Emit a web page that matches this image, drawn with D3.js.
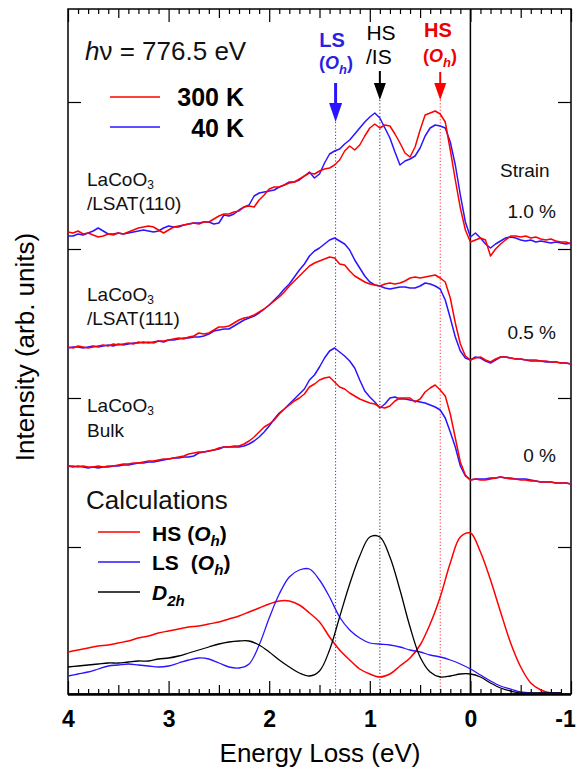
<!DOCTYPE html>
<html><head><meta charset="utf-8">
<script src="https://cdn.jsdelivr.net/npm/d3@7"></script>
<style>
html,body{margin:0;padding:0;background:#fff;}
svg{display:block;}
text{font-family:"Liberation Sans",Arial,Helvetica,sans-serif;}
</style>
</head><body>
<svg id="chart" width="582" height="773"></svg>
<script>
// ---------- DATA ----------
// Energy loss grid of the measured spectra (eV)
const energyExp = [4.00,3.95,3.90,3.85,3.80,3.75,3.70,3.65,3.60,3.55,3.50,3.45,3.40,3.35,3.30,3.25,3.20,3.15,3.10,3.05,3.00,2.95,2.90,2.85,2.80,2.75,2.70,2.65,2.60,2.55,2.50,2.45,2.40,2.35,2.30,2.25,2.20,2.15,2.10,2.05,2.00,1.95,1.90,1.85,1.80,1.75,1.70,1.65,1.60,1.55,1.50,1.45,1.40,1.35,1.30,1.25,1.20,1.15,1.10,1.05,1.00,0.95,0.90,0.85,0.80,0.75,0.70,0.65,0.60,0.55,0.50,0.45,0.40,0.35,0.30,0.25,0.20,0.15,0.10,0.05,0.00,-0.05,-0.10,-0.15,-0.20,-0.25,-0.30,-0.35,-0.40,-0.45,-0.50,-0.55,-0.60,-0.65,-0.70,-0.75,-0.80,-0.85,-0.90,-0.95,-1.00];

// LaCoO3/LSAT(110), offset spectra (arb. units)
const lsat110_300K = [462,461,463,460,461,459,457,458,460,459,461,460,462,464,466,467,468,467,464,461,464,467,468,469,470,471,470,472,472,475,478,480,480,482,483,487,488,487,494,499,505,507,507,509,511,512,515,518,521,520,523,525,526,529,534,543,548,544,549,558,566,570,566,569,568,560,551,541,537,547,564,579,581,583,580,572,544,514,486,464,452,454,456,454,438,445,450,454,458,458,457,458,456,457,455,454,455,453,452,452,450];
const lsat110_40K = [458,458,460,459,461,463,466,463,460,460,461,460,461,462,463,464,463,462,463,466,468,467,467,469,470,471,471,472,472,470,471,479,478,480,484,487,489,498,501,502,503,504,507,509,512,512,514,518,522,516,520,531,540,543,545,550,554,560,566,572,577,581,576,566,556,542,529,533,535,538,546,558,566,569,568,566,552,529,499,472,457,461,456,450,446,450,453,456,457,456,454,453,454,452,453,452,451,452,451,450,451];

// LaCoO3/LSAT(111)
const lsat111_300K = [347,346,348,347,346,347,348,349,348,350,349,350,351,350,352,351,352,351,353,353,354,355,356,355,357,358,361,360,361,364,367,367,368,371,374,376,377,379,382,385,389,393,397,402,408,413,418,423,428,431,433,435,437,436,430,429,423,418,415,412,410,409,408,410,411,410,411,413,416,417,416,417,418,419,416,412,396,371,350,338,334,336,337,334,332,335,337,337,336,335,335,334,334,334,333,333,332,332,331,331,330];
const lsat111_40K = [346,347,347,346,347,348,347,348,349,348,350,349,350,351,351,352,351,352,353,352,354,354,355,356,356,357,357,358,360,363,364,365,365,368,371,374,376,378,381,385,389,394,399,405,410,417,424,430,438,443,446,450,454,456,453,450,444,434,426,418,412,409,408,406,405,406,407,407,406,406,408,411,410,408,405,394,376,357,343,336,334,337,336,333,331,334,337,337,336,335,335,334,333,333,333,332,332,332,331,331,330];

// LaCoO3 bulk
const bulk_300K = [228,228,227,228,227,227,228,227,228,228,229,230,230,231,231,232,233,233,234,235,235,236,237,238,240,241,242,242,243,244,246,247,247,248,248,250,253,257,262,267,270,274,280,285,289,293,296,300,307,310,314,316,317,312,307,305,301,298,295,293,291,290,287,286,288,293,296,296,296,292,295,302,306,309,304,298,280,256,232,219,214,215,214,214,215,216,217,216,215,215,214,214,213,213,212,212,212,211,211,211,210];
const bulk_40K = [228,227,228,227,226,227,226,227,227,228,228,229,229,230,231,231,232,232,233,234,235,236,236,237,237,238,241,242,243,244,245,247,247,247,247,248,250,253,257,262,268,275,281,285,290,295,300,305,314,319,327,336,343,346,342,338,333,326,314,303,297,292,286,290,296,297,295,295,294,293,292,291,289,287,284,276,262,247,228,218,214,215,215,215,216,216,217,216,216,215,215,215,214,213,212,212,212,211,211,211,210];

// Calculated spectra
const energyCalc = [4.0,3.9,3.8,3.7,3.6,3.5,3.4,3.3,3.2,3.1,3.0,2.9,2.8,2.7,2.6,2.5,2.4,2.3,2.2,2.1,2.0,1.9,1.8,1.7,1.6,1.5,1.4,1.3,1.2,1.1,1.0,0.9,0.8,0.7,0.6,0.5,0.4,0.3,0.2,0.1,0.0,-0.1,-0.2,-0.3,-0.4,-0.5,-0.6,-0.7,-0.8,-0.9];
const calcHS = [42,44,46,48,49,51,53,56,58,61,63,65,67,68,70,72,75,78,82,86,90,93,93,89,81,72,57,44,34,25,20,17,20,28,36,49,70,97,131,157,161,142,114,82,51,27,11,4,1,1];
const calcLS = [18,20,22,25,28,29,30,29,28,27,28,31,34,36,35,31,27,26,30,49,76,100,117,124,125,114,97,77,64,56,51,50,49,47,44,42,39,37,34,30,25,19,13,8,5,2,1,1,1,1];
const calcD2h = [27,28,29,30,31,31,32,33,33,35,36,38,41,44,47,50,52,53,53,49,42,34,27,21,18,23,44,77,110,138,157,157,137,104,67,37,22,17,18,20,20,17,11,6,3,1,1,1,1,1];

// Marker energies (eV) for LS(Oh), HS/IS, HS(Oh)
const markerEnergy = [1.34, 0.90, 0.30];
const xMajorTicks = [4,3,2,1,0,-1];
const xHalfTicks = [3.5,2.5,1.5,0.5,-0.5];
const yTicks = [147,296,445,592];

// ---------- CHART ----------
const W = 582, H = 773;
const L = 68, R = 571, T = 9, B = 694;
const RED = "#ff0000", BLUE = "#2b14ff", BLK = "#000";
const x = d3.scaleLinear().domain([4,-1]).range([L,R]);
const y = d3.scaleLinear().domain([0,685]).range([B,T]);
const svg = d3.select("#chart");
svg.append("rect").attr("width",W).attr("height",H).attr("fill","#fff");

// guide dotted lines
const markerColors = ["#3a2cff","#333","#ff3030"];
const markerTops = [122,100,100];
markerEnergy.forEach((e,i)=>{
  svg.append("line").attr("x1",x(e)).attr("x2",x(e)).attr("y1",markerTops[i]).attr("y2",B)
    .attr("stroke",markerColors[i]).attr("stroke-width",1).attr("stroke-dasharray","1.2,2");
});
// zero line
svg.append("line").attr("x1",x(0)).attr("x2",x(0)).attr("y1",T).attr("y2",B)
  .attr("stroke",BLK).attr("stroke-width",1.5);

// axes
function noDomain(g){ g.select(".domain").remove(); }
const minorTicks = d3.range(-10,41).map(i=>i/10).filter(v=>Math.abs(v*2-Math.round(v*2))>1e-6);
const gBot = svg.append("g").attr("transform",`translate(0,${B})`);
gBot.append("g").call(d3.axisBottom(x).tickValues(minorTicks).tickSize(-5).tickFormat("")).call(noDomain);
gBot.append("g").call(d3.axisBottom(x).tickValues(xHalfTicks).tickSize(-9).tickFormat("")).call(noDomain);
const majB = gBot.append("g").call(d3.axisBottom(x).tickValues(xMajorTicks).tickSize(-13).tickPadding(17).tickFormat(d=>String(d))).call(noDomain);
majB.selectAll("text").attr("font-size",23).attr("font-weight","bold").attr("fill","#000")
  .attr("font-family","Liberation Sans, Arial, sans-serif")
  .attr("dx",d=>d===-1?-6:0);
const gTop = svg.append("g").attr("transform",`translate(0,${T})`);
gTop.append("g").call(d3.axisTop(x).tickValues(minorTicks).tickSize(-5).tickFormat("")).call(noDomain);
gTop.append("g").call(d3.axisTop(x).tickValues(xHalfTicks).tickSize(-9).tickFormat("")).call(noDomain);
gTop.append("g").call(d3.axisTop(x).tickValues(xMajorTicks).tickSize(-13).tickFormat("")).call(noDomain);
svg.append("g").attr("transform",`translate(${L},0)`).call(d3.axisLeft(y).tickValues(yTicks).tickSize(-13).tickFormat("")).call(noDomain);
svg.append("g").attr("transform",`translate(${R},0)`).call(d3.axisRight(y).tickValues(yTicks).tickSize(-13).tickFormat("")).call(noDomain);
svg.selectAll(".tick line").attr("stroke","#000").attr("stroke-width",1.2);

// frame
svg.append("rect").attr("x",L).attr("y",T).attr("width",R-L).attr("height",B-T)
  .attr("fill","none").attr("stroke","#000").attr("stroke-width",1.5);
svg.append("line").attr("x1",L).attr("x2",R).attr("y1",B+0.5).attr("y2",B+0.5).attr("stroke","#000").attr("stroke-width",2.5);

// curves
const lineExp = d3.line().x(d=>x(d[0])).y(d=>y(d[1]));
const lineCalc = d3.line().x(d=>x(d[0])).y(d=>y(d[1])).curve(d3.curveCatmullRom.alpha(0.5));
function draw(xs, ys, color, gen, w){
  svg.append("path").datum(xs.map((e,i)=>[e,ys[i]])).attr("d",gen)
    .attr("fill","none").attr("stroke",color).attr("stroke-width",w).attr("stroke-linejoin","round");
}
[[lsat110_40K,lsat110_300K],[lsat111_40K,lsat111_300K],[bulk_40K,bulk_300K]].forEach(p=>{
  draw(energyExp,p[0],BLUE,lineExp,1.5);
  draw(energyExp,p[1],RED,lineExp,1.5);
});
draw(energyCalc,calcHS,RED,lineCalc,1.5);
draw(energyCalc,calcLS,BLUE,lineCalc,1.3);
draw(energyCalc,calcD2h,BLK,lineCalc,1.3);

// arrows
function arrow(e, y0, yHead, yTip, hw, sw, color){
  const xc = x(e);
  svg.append("line").attr("x1",xc).attr("x2",xc).attr("y1",y0).attr("y2",yHead+2).attr("stroke",color).attr("stroke-width",sw);
  svg.append("path").attr("d",`M${xc-hw},${yHead}L${xc+hw},${yHead}L${xc},${yTip}Z`).attr("fill",color);
}
arrow(markerEnergy[0],83,103,122,6.5,3,BLUE);
arrow(markerEnergy[1],71,83,100,6,2,BLK);
arrow(markerEnergy[2],72,83,100,6,2,RED);

// text helpers
function txt(xp,yp,size,opts={}){
  const t = svg.append("text").attr("x",xp).attr("y",yp).attr("font-size",size)
    .attr("fill",opts.fill||"#111").attr("text-anchor",opts.anchor||"start");
  if(opts.bold) t.attr("font-weight","bold");
  return t;
}
function oh(t, size, gap){
  t.append("tspan").attr("dx",gap||0).text("(");
  t.append("tspan").attr("font-style","italic").text("O");
  t.append("tspan").attr("font-style","italic").attr("font-size",size*0.72).attr("dy",size*0.25).text("h");
  t.append("tspan").attr("dy",-size*0.25).text(")");
}

// photon energy
const hv = txt(85,60,26);
hv.append("tspan").attr("font-style","italic").text("h");
hv.append("tspan").text("\u03bd = 776.5 eV");

// temperature legend
svg.append("line").attr("x1",110).attr("x2",160).attr("y1",97).attr("y2",97).attr("stroke",RED).attr("stroke-width",1.5);
svg.append("line").attr("x1",110).attr("x2",160).attr("y1",127).attr("y2",127).attr("stroke",BLUE).attr("stroke-width",1.5);
txt(244,106,25,{bold:true,anchor:"end",fill:"#000"}).text("300 K");
txt(244,137,25,{bold:true,anchor:"end",fill:"#000"}).text("40 K");

// sample labels
function lacoo(yp){
  const t = txt(87,yp,19);
  t.append("tspan").text("LaCoO");
  t.append("tspan").attr("font-size",12).attr("dy",3).text("3");
}
lacoo(186); txt(87,210,19).text("/LSAT(110)");
lacoo(301); txt(87,325,19).text("/LSAT(111)");
lacoo(412); txt(87,437,19).text("Bulk");

// strain labels
txt(500,177,19).text("Strain");
txt(556,218,19,{anchor:"end"}).text("1.0 %");
txt(556,339,19,{anchor:"end"}).text("0.5 %");
txt(556,462,19,{anchor:"end"}).text("0 %");

// marker labels
txt(332,47,20,{bold:true,anchor:"middle",fill:"#2b1fe0"}).text("LS");
oh(txt(336,69,18,{bold:true,anchor:"middle",fill:"#2b1fe0"}),18);
txt(381,40,21,{anchor:"middle",fill:"#000"}).text("HS");
txt(366,64,21,{fill:"#000"}).text("/IS");
txt(438,37,20,{bold:true,anchor:"middle",fill:"#ee0000"}).text("HS");
oh(txt(440,62,18,{bold:true,anchor:"middle",fill:"#ee0000"}),18);

// calculations legend
txt(86,509,26).text("Calculations");
[[532,RED],[562,BLUE],[592,BLK]].forEach(d=>{
  svg.append("line").attr("x1",98).attr("x2",140).attr("y1",d[0]).attr("y2",d[0]).attr("stroke",d[1]).attr("stroke-width",1.5);
});
const l1 = txt(152,541,21,{bold:true,fill:"#000"});
l1.append("tspan").text("HS");
oh(l1,21,6);
const l2 = txt(152,570,21,{bold:true,fill:"#000"});
l2.append("tspan").text("LS");
oh(l2,21,12);
const l3 = txt(152,600,21,{bold:true,fill:"#000"});
l3.append("tspan").attr("font-style","italic").text("D");
l3.append("tspan").attr("font-style","italic").attr("font-size",15).attr("dy",6).text("2h");

// axis titles
txt(320,762,26,{anchor:"middle",fill:"#000"}).text("Energy Loss (eV)");
svg.append("text").attr("transform","translate(34,347) rotate(-90)").attr("text-anchor","middle")
  .attr("font-size",26).attr("fill","#000").text("Intensity (arb. units)");
</script>
</body></html>
